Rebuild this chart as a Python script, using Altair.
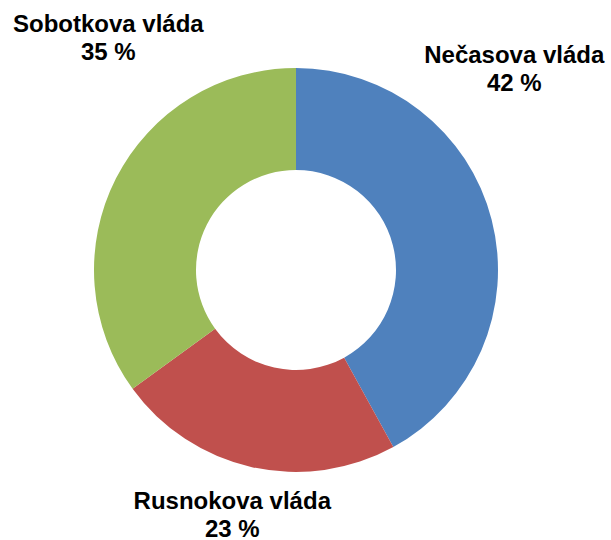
import altair as alt
import pandas as pd

categories = ["Nečasova vláda", "Rusnokova vláda", "Sobotkova vláda"]
shares = [42, 23, 35]
labels = ["Nečasova vláda\n42 %", "Rusnokova vláda\n23 %", "Sobotkova vláda\n35 %"]
colors = ["#4F81BD", "#C0504D", "#9BBB59"]

df = pd.DataFrame({
    "cat": categories,
    "share": shares,
    "label": labels,
    "ord": list(range(len(categories))),
})

base = alt.Chart(df).encode(
    theta=alt.Theta("share:Q", stack=True),
    order=alt.Order("ord:Q"),
)

donut = base.mark_arc(outerRadius=202, innerRadius=100, strokeWidth=0).encode(
    color=alt.Color("cat:N", scale=alt.Scale(domain=categories, range=colors), legend=None)
)

offsets = {
    "Nečasova vláda": (73, -177),
    "Rusnokova vláda": (-31, 86),
    "Sobotkova vláda": (-54, -177),
}

text_layers = []
for c in categories:
    dx, dy = offsets[c]
    t = base.mark_text(
        radius=150, dx=dx, dy=dy, font="Liberation Sans", fontWeight="bold",
        fontSize=24, lineHeight=28, align="center", baseline="middle", color="#000000",
        lineBreak="\n",
    ).encode(
        text=alt.condition(alt.datum.cat == c, alt.Text("label:N"), alt.value("")),
    )
    text_layers.append(t)

chart = alt.layer(donut, *text_layers).properties(
    width=592, height=540,
    autosize=alt.AutoSizeParams(type="none"),
    padding={"left": 0, "top": 0, "right": 19, "bottom": 0},
).configure_view(stroke=None)

chart.save("out.html", embed_options={"renderer": "svg", "actions": False})
